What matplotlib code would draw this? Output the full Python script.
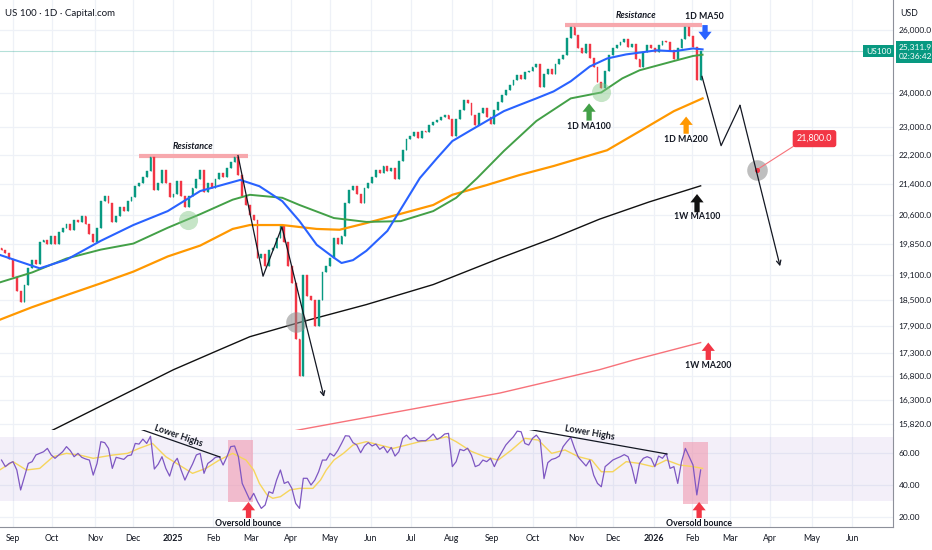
import numpy as np
import matplotlib
matplotlib.use("Agg")
import matplotlib.pyplot as plt
from matplotlib.patches import Rectangle
from matplotlib.ticker import NullLocator
from matplotlib.transforms import blended_transform_factory

plt.rcParams['font.family'] = ['Lato', 'DejaVu Sans']

# x axis = daily bar number (bar 0 = 3 Sep 2024), one candle every 2 bars
start_bar = -6
closes = [19700, 19620, 19480, 19050, 18700, 18450, 18850, 19250, 19450, 19350,
          19900, 19950, 19850, 20050, 19850, 20150, 20250, 20350, 20200, 20450,
          20400, 20550, 20350, 20100, 19900, 20250, 20950, 21100, 20900, 20400,
          20550, 20800, 20700, 20950, 21050, 21350, 21450, 21600, 21750, 22150,
          21250, 21450, 21800, 21450, 21050, 21150, 21500, 21100, 20800, 21100,
          21300, 21550, 21800, 21200, 21450, 21300, 21550, 21700, 21600, 21850,
          22000, 22150, 21650, 21100, 20850, 20600, 20450, 19500, 19600, 19300,
          19700, 19750, 20000, 20300, 19900, 19300, 18900, 17600, 16800, 19100,
          18600, 18500, 17900, 18500, 19150, 19300, 19500, 20000, 19850, 20050,
          20900, 21250, 21350, 21150, 20900, 21300, 21450, 21600, 21800, 21700,
          21900, 21750, 21850, 21550, 22050, 22350, 22650, 22750, 22850, 22700,
          22900, 22850, 23050, 23150, 23200, 23300, 23350, 23250, 22750, 23250,
          23500, 23800, 23700, 23350, 23050, 23400, 23550, 23300, 23100, 23500,
          23750, 23950, 24100, 24250, 24400, 24550, 24450, 24650, 24700, 24800,
          24900, 24200, 24600, 24750, 24600, 24900, 25050, 25200, 25750, 26100,
          25850, 25400, 25250, 25550, 25100, 24800, 24350, 24150, 24700, 25200,
          25400, 25500, 25600, 25700, 25450, 25550, 25050, 24800, 25300, 25500,
          25400, 25300, 25500, 25650, 25600, 25350, 25050, 25400, 25700, 26100,
          25800, 25450, 24400, 25311.9]
first_open = 19750

rsi = [55.6, 51.5, 53.5, 54.6, 49.4, 36.9, 45.2, 53.5, 54.6, 58.8,
       59.8, 60.8, 62.9, 58.8, 56.7, 58.8, 60.8, 64.0, 61.5, 57.7,
       59.8, 57.3, 56.3, 55.6, 46.2, 53.5, 67.1, 66.5, 62.9, 50.4,
       57.3, 56.7, 56.0, 58.3, 58.8, 66.0, 65.6, 68.7, 66.0, 70.5,
       50.0, 53.0, 57.7, 50.4, 45.6, 53.5, 56.7, 49.4, 43.1, 48.3,
       53.1, 58.8, 59.8, 47.3, 53.5, 55.2, 57.3, 57.7, 52.5, 57.7,
       64.0, 64.4, 57.7, 41.0, 35.8, 30.6, 34.8, 29.6, 25.4, 27.5,
       35.8, 34.8, 43.1, 49.4, 41.0, 42.1, 37.9, 28.5, 25.4, 44.2,
       44.2, 40.0, 43.1, 48.3, 55.6, 55.6, 59.8, 58.1, 61.5, 66.0,
       70.8, 70.6, 66.5, 65.0, 60.2, 64.4, 66.5, 64.4, 65.6, 62.3,
       64.0, 60.2, 63.5, 58.1, 60.8, 69.2, 71.2, 68.5, 69.8, 67.5,
       67.7, 67.7, 69.6, 71.9, 68.5, 69.8, 71.9, 72.3, 51.5, 54.6,
       62.3, 61.5, 63.0, 58.7, 51.5, 52.5, 55.6, 54.6, 56.7, 51.5,
       56.7, 60.8, 65.0, 67.7, 70.2, 73.7, 73.3, 66.0, 65.0, 69.2,
       71.2, 68.1, 44.0, 54.0, 56.0, 56.7, 58.1, 64.0, 67.1, 69.8,
       62.9, 57.3, 54.6, 51.9, 55.6, 46.2, 41.0, 38.9, 51.5, 53.5,
       55.6, 56.7, 57.7, 59.0, 57.7, 51.0, 41.0, 53.5, 56.7, 57.7,
       56.7, 51.5, 58.1, 56.7, 59.8, 50.4, 51.5, 41.0, 54.6, 62.9,
       57.7, 52.5, 33.8, 49.4]

rsi_ma_bar = [-7, 0, 7, 14, 21, 28, 35, 42, 52, 60, 66, 73, 80, 87, 94, 101, 108,
              115, 122, 126, 129, 133, 136, 140, 145, 150, 157, 161, 164, 168, 173,
              178, 185, 192, 199, 206, 213, 220, 227, 232, 240, 247, 254, 261, 268,
              275, 282, 289, 296, 303, 308, 314, 321, 328, 335, 342, 349, 356, 361]
rsi_ma_val = [49.4, 54.6, 49.4, 50.4, 57.7, 59.8, 58.7, 56.7, 58.7, 59.8, 62.9, 66.0,
              57.7, 52.5, 47.3, 50.4, 55.6, 59.8, 55.6, 49.4, 41.0, 33.8, 31.7, 32.7,
              36.9, 37.9, 37.9, 43.1, 49.4, 55.6, 59.8, 65.0, 67.1, 65.0, 62.9, 65.0,
              67.1, 68.1, 70.2, 67.1, 61.0, 57.7, 55.6, 61.9, 69.2, 68.1, 59.8, 61.9,
              57.7, 55.6, 48.3, 48.3, 54.6, 53.5, 51.5, 55.6, 52.5, 51.5, 50.4]

ma50_bar = [-7, 14, 28, 46, 63, 81, 98, 119, 129, 141, 150, 159, 168, 172, 178, 185,
            196, 203, 213, 222, 230, 239, 248, 257, 265, 274, 283, 292, 302, 311, 321,
            337, 346, 356, 361]
ma50_val = [19580, 19250, 19460, 19930, 20330, 20690, 21220, 21520, 21350, 20950, 20430,
            19830, 19510, 19380, 19450, 19680, 20180, 20740, 21570, 22120, 22600, 22890,
            23180, 23470, 23650, 23850, 24060, 24370, 24830, 25080, 25210, 25340, 25310,
            25400, 25370]

ma100_bar = [-7, 10, 28, 46, 63, 81, 98, 115, 124, 141, 150, 168, 185, 203, 220, 232,
             243, 257, 274, 292, 308, 319, 328, 346, 356, 361]
ma100_val = [18910, 19150, 19490, 19710, 19860, 20260, 20610, 20990, 21120, 21040, 20850,
             20510, 20410, 20430, 20690, 21040, 21570, 22320, 23180, 23850, 24030, 24460,
             24710, 25000, 25160, 25200]

ma200_bar = [-7, 10, 28, 46, 63, 81, 98, 115, 124, 141, 159, 171, 185, 203, 220, 230,
             248, 265, 283, 297, 311, 328, 346, 361]
ma200_val = [18040, 18330, 18610, 18890, 19170, 19540, 19810, 20230, 20330, 20330, 20230,
             20210, 20380, 20620, 20850, 21120, 21380, 21650, 21900, 22120, 22340, 22880,
             23470, 23850]

w100_bar = [-7, 23, 84, 108, 124, 150, 185, 220, 255, 283, 307, 333, 360]
w100_val = [15190, 15740, 16940, 17370, 17660, 17980, 18390, 18860, 19500, 20000, 20480,
            20930, 21360]

w200_bar = [100, 155, 255, 307, 325, 360]
w200_val = [15350, 15740, 16450, 16940, 17150, 17530]

month_pos = [0, 20.4, 42.9, 62.8, 83.8, 104.7, 124.6, 145.5, 166, 187.4, 208.4, 229.8,
             250.8, 272.3, 294.8, 314.1, 335.6, 355.5, 375.4, 396.3, 418.3, 439.3]
month_lab = ['Sep', 'Oct', 'Nov', 'Dec', '2025', 'Feb', 'Mar', 'Apr', 'May', 'Jun', 'Jul',
             'Aug', 'Sep', 'Oct', 'Nov', 'Dec', '2026', 'Feb', 'Mar', 'Apr', 'May', 'Jun']
price_ticks = [15820, 16300, 16800, 17300, 17900, 18500, 19100, 19850, 20600, 21400,
               22200, 23000, 24000, 26000]
rsi_ticks = [20, 40, 60]

# drawings
res1_bar, res1_val = [66, 123], 22180
res2_bar, res2_val = [289, 360.7], 26170
fall1_bar = [117.8, 130.9, 140.8, 162.8]
fall1_val = [22190, 19060, 20280, 16370]
proj_bar = [360.7, 370.7, 380.6, 401.6]
proj_val = [24520, 22470, 23640, 19300]
target_bar, target = 389.5, 21800.0
last_price = 25311.9

GREEN, RED = '#089981', '#f23645'
GRID = '#eef1f7'
TXT = '#131722'

fig = plt.figure(figsize=(9.32, 5.5), dpi=100)
ax = fig.add_axes([0, 120 / 550, 893 / 932, 430 / 550])
ax2 = fig.add_axes([0, 23 / 550, 893 / 932, 97 / 550], sharex=ax)

# ---- main pane -----------------------------------------------------------
ax.set_yscale('log')
ax.set_ylim(15700, 27000)
ax.set_xlim(-6.8, 460.7)
ax.yaxis.set_minor_locator(NullLocator())
ax.set_yticks(price_ticks)
ax.set_yticklabels([f'{v:,.1f}' for v in price_ticks])
ax.yaxis.tick_right()
ax.tick_params(axis='y', length=0, pad=4, labelsize=6, colors=TXT)
ax.tick_params(axis='x', length=0, labelbottom=False)
ax.set_xticks(month_pos)
ax.grid(True, color=GRID, lw=0.9)
ax.set_axisbelow(True)
for s in ['top', 'left', 'bottom']:
    ax.spines[s].set_visible(False)
ax.spines['right'].set_color('#8d909a')

closes = np.array(closes, dtype=float)
opens = np.r_[first_open, closes[:-1]]
bars = start_bar + 2 * np.arange(len(closes))
lo = np.minimum(opens, closes)
hi = np.maximum(opens, closes)
cols = np.where(closes >= opens, GREEN, RED)
ax.bar(bars, hi - lo, bottom=lo, width=0.95, color=cols, edgecolor=cols, linewidth=0.3, zorder=3)
ax.vlines(bars, lo, hi, colors=cols, lw=0.6, zorder=3)

ax.plot(w200_bar, w200_val, color='#f7727a', lw=1, zorder=2)
ax.plot(w100_bar, w100_val, color='#111111', lw=1, zorder=2)
ax.plot(ma200_bar, ma200_val, color='#ff9800', lw=1.6, zorder=4)
ax.plot(ma100_bar, ma100_val, color='#43a047', lw=1.4, zorder=4)
ax.plot(ma50_bar, ma50_val, color='#2962ff', lw=1.5, zorder=4)

ax.axhline(last_price, color=GREEN, lw=0.8, alpha=0.3, zorder=1)

# resistance lines
ax.plot(res1_bar, [res1_val] * 2, color='#f7a8ad', lw=3, solid_capstyle='butt', zorder=2)
ax.plot(res2_bar, [res2_val] * 2, color='#f7a8ad', lw=3, solid_capstyle='butt', zorder=2)
ax.text(94.2, 22450, 'Resistance', fontsize=6.5, weight='bold', style='italic',
        ha='center', va='center', color=TXT)
ax.text(326, 26480, 'Resistance', fontsize=6.5, weight='bold', style='italic',
        ha='center', va='center', color=TXT)

# circles
ax.scatter([91.5, 307.9], [20450, 24030], s=190, color='#81c784', alpha=0.45, lw=0, zorder=5)
ax.scatter([148.2], [17980], s=220, color='#8a8a8a', alpha=0.55, lw=0, zorder=5)
ax.scatter([target_bar], [target], s=220, color='#8a8a8a', alpha=0.55, lw=0, zorder=5)
ax.scatter([target_bar], [target], s=7, color=RED, zorder=6)

# zig-zag paths
ax.plot(fall1_bar[:-1], fall1_val[:-1], color=TXT, lw=0.9, zorder=6)
ax.annotate('', xy=(fall1_bar[-1], fall1_val[-1]), xytext=(fall1_bar[-2], fall1_val[-2]),
            arrowprops=dict(arrowstyle='->', color=TXT, lw=0.9, shrinkA=0, shrinkB=0,
                            mutation_scale=8), zorder=6)
ax.plot(proj_bar[:-1], proj_val[:-1], color=TXT, lw=0.9, zorder=6)
ax.annotate('', xy=(proj_bar[-1], proj_val[-1]), xytext=(proj_bar[-2], proj_val[-2]),
            arrowprops=dict(arrowstyle='->', color=TXT, lw=0.9, shrinkA=0, shrinkB=0,
                            mutation_scale=8), zorder=6)

# target label
ax.plot([target_bar, 409.4], [target, 22480], color='#f7727a', lw=0.8, zorder=5)
ax.text(419.6, 22670, f'{target:,.1f}', fontsize=6.5, color='white', ha='center', va='center',
        bbox=dict(boxstyle='round,pad=0.45,rounding_size=0.3', fc=RED, ec='none'), zorder=7)


def block_arrow(a, x, y_from, y_to, color):
    a.annotate('', xy=(x, y_to), xytext=(x, y_from),
               arrowprops=dict(arrowstyle='simple,head_length=0.6,head_width=0.95,tail_width=0.38',
                               fc=color, ec=color, lw=0, shrinkA=0, shrinkB=0,
                               mutation_scale=10), zorder=8, annotation_clip=False)


block_arrow(ax, 362.3, 26160, 25670, '#2962ff')
ax.text(361.8, 26460, '1D MA50', fontsize=6.3, weight='bold', ha='center', va='center', color=TXT)
block_arrow(ax, 301.6, 23190, 23700, '#43a047')
ax.text(301.6, 23030, '1D MA100', fontsize=6.3, weight='bold', ha='center', va='center', color=TXT)
block_arrow(ax, 352.4, 22810, 23310, '#ff9800')
ax.text(352.4, 22640, '1D MA200', fontsize=6.3, weight='bold', ha='center', va='center', color=TXT)
block_arrow(ax, 358.1, 20660, 21140, '#111111')
ax.text(358.1, 20540, '1W MA100', fontsize=6.3, weight='bold', ha='center', va='center', color=TXT)
block_arrow(ax, 364.0, 17150, 17530, RED)
ax.text(364.0, 17020, '1W MA200', fontsize=6.3, weight='bold', ha='center', va='center', color=TXT)

# last price labels
ax.text(459.8, last_price, 'US100', fontsize=6, color='white', ha='right', va='center',
        bbox=dict(boxstyle='square,pad=0.3', fc=GREEN, ec='none'), zorder=9)
tr = blended_transform_factory(ax.transAxes, ax.transData)
ax.annotate('25,311.9\n02:36:42', xy=(1.0, last_price), xycoords=tr, xytext=(4, 5),
            textcoords='offset points', fontsize=6, color='white', ha='left', va='top',
            linespacing=1.3, bbox=dict(boxstyle='square,pad=0.35', fc=GREEN, ec='none'),
            annotation_clip=False, zorder=9)

# ---- RSI pane ------------------------------------------------------------
ax2.set_ylim(13.75, 74.4)
ax2.axhspan(30, 70, color='#7e57c2', alpha=0.09, lw=0)
ax2.set_yticks(rsi_ticks)
ax2.set_yticklabels([f'{v:.2f}' for v in rsi_ticks])
ax2.yaxis.tick_right()
ax2.tick_params(axis='y', length=0, pad=4, labelsize=6, colors=TXT)
ax2.set_xticks(month_pos)
ax2.set_xticklabels(month_lab)
ax2.tick_params(axis='x', length=0, pad=5, labelsize=6.3, colors=TXT)
for lab in ax2.get_xticklabels():
    if lab.get_text() in ('2025', '2026'):
        lab.set_fontweight('bold')
ax2.grid(True, color=GRID, lw=0.9)
ax2.set_axisbelow(True)
for s in ['top', 'left']:
    ax2.spines[s].set_visible(False)
ax2.spines['right'].set_color('#8d909a')
ax2.spines['bottom'].set_color('#8d909a')

ax2.add_patch(Rectangle((112.6, 29.4), 13.1, 38.7, fc='#f199b0', alpha=0.6, lw=0, zorder=1))
ax2.add_patch(Rectangle((350.8, 28.1), 13.1, 38.8, fc='#f199b0', alpha=0.6, lw=0, zorder=1))

ax2.plot(rsi_ma_bar, rsi_ma_val, color='#f6d55c', lw=1, zorder=3)
ax2.plot(bars, rsi, color='#7e57c2', lw=0.9, zorder=4)

ax2.plot([66.5, 108.4], [75, 57.5], color=TXT, lw=0.9, zorder=5)
ax2.plot([269.1, 342.4], [75, 59.4], color=TXT, lw=0.9, zorder=5)
ax2.text(86.4, 70.6, 'Lower Highs', fontsize=6.5, weight='bold', rotation=-19, ha='center',
         va='center', color=TXT, zorder=6)
ax2.text(302, 72.5, 'Lower Highs', fontsize=6.5, weight='bold', rotation=-10, ha='center',
         va='center', color=TXT, zorder=6)

block_arrow(ax2, 123.3, 19.4, 29.4, RED)
block_arrow(ax2, 359.2, 19.4, 29.4, RED)
ax2.text(122.8, 15.9, 'Oversold bounce', fontsize=6.3, weight='bold', ha='center', va='center',
         color=TXT, clip_on=False, zorder=8)
ax2.text(358.9, 15.9, 'Oversold bounce', fontsize=6.3, weight='bold', ha='center', va='center',
         color=TXT, clip_on=False, zorder=8)

# header texts
fig.text(5 / 932, 1 - 13 / 550, 'US 100 · 1D · Capital.com', fontsize=7, color=TXT, va='center')
fig.text(900 / 932, 1 - 13 / 550, 'USD', fontsize=6.3, color=TXT, va='center')

fig.savefig('out.png', dpi=100)
